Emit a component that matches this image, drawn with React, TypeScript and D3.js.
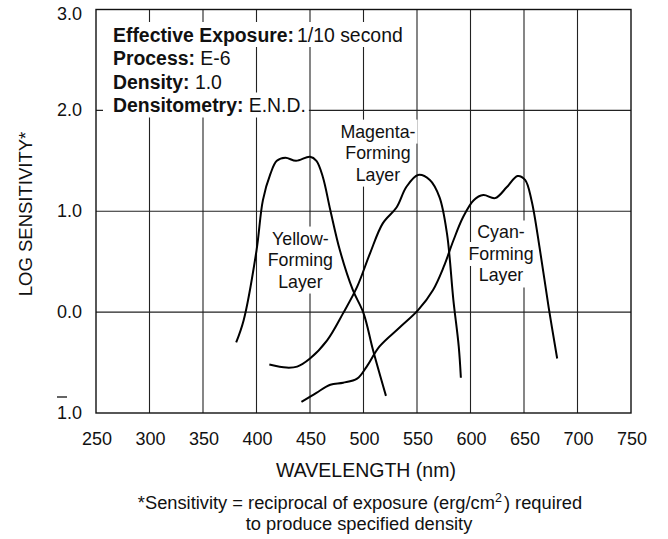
import { useEffect, useRef } from "react"
import * as d3 from "d3"

// wavelength (nm) and log sensitivity
const yellowNm = [381, 388, 400, 406, 413, 419, 427, 437, 450, 456, 462, 469, 478, 490, 500, 509, 521]
const yellowLogS = [-0.3, -0.08, 0.61, 1.11, 1.37, 1.5, 1.53, 1.5, 1.54, 1.5, 1.34, 1.01, 0.61, 0.22, -0.01, -0.38, -0.83]

const magentaNm = [412, 428, 438, 450, 466, 481, 494, 506, 518, 531, 540, 551, 562, 571, 578, 584, 589, 591]
const magentaLogS = [-0.52, -0.55, -0.54, -0.46, -0.28, -0.01, 0.25, 0.58, 0.88, 1.04, 1.24, 1.36, 1.31, 1.14, 0.78, 0.12, -0.34, -0.65]

const cyanNm = [442, 456, 469, 481, 494, 503, 515, 534, 551, 565, 575, 584, 593, 603, 612, 623, 634, 644, 651, 657, 665, 673, 681]
const cyanLogS = [-0.89, -0.8, -0.72, -0.7, -0.66, -0.54, -0.34, -0.15, 0.02, 0.22, 0.45, 0.71, 0.94, 1.11, 1.16, 1.13, 1.24, 1.35, 1.31, 1.11, 0.61, 0.05, -0.46]

const xTicks = [250, 300, 350, 400, 450, 500, 550, 600, 650, 700, 750]
const yTicks = [-1, 0, 1, 2, 3]

const layerLabels = [
  { lines: ["Yellow-", "Forming", "Layer"], nm: 441, logS: 0.67 },
  { lines: ["Magenta-", "Forming", "Layer"], nm: 513.5, logS: 1.73 },
  { lines: ["Cyan-", "Forming", "Layer"], nm: 628.5, logS: 0.73 },
]

const infoRows = [
  ["Effective Exposure:", "1/10 second"],
  ["Process:", " E-6"],
  ["Density:", " 1.0"],
  ["Densitometry:", " E.N.D."],
]

const W = 668
const H = 539
const FONT = "'Liberation Sans', Arial, Helvetica, sans-serif"

export default function App() {
  const svgRef = useRef<SVGSVGElement>(null)

  useEffect(() => {
    if (!svgRef.current) return
    const root = d3.select(svgRef.current)
    root.selectAll("*").remove()

    const margin = { top: 9.5, right: 37, bottom: 126, left: 96 }
    const x = d3.scaleLinear().domain([250, 750]).range([margin.left, W - margin.right])
    const y = d3.scaleLinear().domain([-1, 3]).range([H - margin.bottom, margin.top])

    const svg = root.append("g").style("font-family", FONT)

    // grid
    const grid = svg.append("g").attr("stroke", "#222").attr("stroke-width", 1.1)
    grid
      .selectAll("line.v")
      .data(xTicks.slice(1, -1))
      .join("line")
      .attr("x1", (d) => x(d))
      .attr("x2", (d) => x(d))
      .attr("y1", y(3))
      .attr("y2", y(-1))
    grid
      .selectAll("line.h")
      .data(yTicks.slice(1, -1))
      .join("line")
      .attr("x1", x(250))
      .attr("x2", x(750))
      .attr("y1", (d) => y(d))
      .attr("y2", (d) => y(d))

    // white boxes behind text blocks, sized from the text itself
    const boxed = (g: d3.Selection<SVGGElement, unknown, null, undefined>, padX: number, padY: number, leftTo?: number) => {
      g.selectAll<SVGTextElement, unknown>("text").each(function () {
        const b = this.getBBox()
        const x0 = leftTo ?? b.x - padX
        g.insert("rect", "text")
          .attr("x", x0)
          .attr("y", b.y - padY)
          .attr("width", b.x + b.width + padX - x0)
          .attr("height", b.height + padY * 2)
          .attr("fill", "white")
      })
    }

    // info block
    const info = svg.append("g")
    infoRows.forEach((row, i) => {
      const t = info
        .append("text")
        .attr("x", 113)
        .attr("y", 41.5 + i * 23.5)
        .attr("font-size", 19.4)
        .attr("fill", "#111")
      t.append("tspan").attr("font-weight", "bold").text(row[0])
      t.append("tspan").attr("dx", i === 0 ? 3 : 0).text(row[1])
    })
    boxed(info, 3, 1.5, 103)

    // layer labels
    layerLabels.forEach((lab) => {
      const g = svg.append("g")
      lab.lines.forEach((line, i) => {
        g.append("text")
          .attr("x", x(lab.nm))
          .attr("y", y(lab.logS) + i * 21.5)
          .attr("text-anchor", "middle")
          .attr("font-size", 17.8)
          .attr("fill", "#111")
          .text(line)
      })
      boxed(g, 2, 2)
    })

    // frame
    svg
      .append("rect")
      .attr("x", x(250))
      .attr("y", y(3))
      .attr("width", x(750) - x(250))
      .attr("height", y(-1) - y(3))
      .attr("fill", "none")
      .attr("stroke", "#111")
      .attr("stroke-width", 1.4)

    // curves
    const line = d3
      .line<[number, number]>()
      .x((d) => x(d[0]))
      .y((d) => y(d[1]))
      .curve(d3.curveCatmullRom.alpha(0.5))
    const series = [
      d3.zip(yellowNm, yellowLogS),
      d3.zip(magentaNm, magentaLogS),
      d3.zip(cyanNm, cyanLogS),
    ] as [number, number][][]
    svg
      .append("g")
      .selectAll("path")
      .data(series)
      .join("path")
      .attr("d", (d) => line(d))
      .attr("fill", "none")
      .attr("stroke", "#000")
      .attr("stroke-width", 2)

    // x tick labels
    svg
      .append("g")
      .selectAll("text")
      .data(xTicks)
      .join("text")
      .attr("x", (d) => x(d) + 1)
      .attr("y", y(-1) + 32)
      .attr("text-anchor", "middle")
      .attr("font-size", 18)
      .attr("fill", "#111")
      .text((d) => d)

    // y tick labels ("1.0" with bar for -1)
    const yl = svg.append("g")
    yl.selectAll("text")
      .data(yTicks)
      .join("text")
      .attr("x", 82)
      .attr("y", (d) => y(d) + 6 + (d === 3 ? 4 : 0))
      .attr("text-anchor", "end")
      .attr("font-size", 18)
      .attr("fill", "#111")
      .text((d) => Math.abs(d).toFixed(1))
    yl.append("line")
      .attr("x1", 57)
      .attr("x2", 67)
      .attr("y1", y(-1) - 16)
      .attr("y2", y(-1) - 16)
      .attr("stroke", "#111")
      .attr("stroke-width", 1.3)

    // axis titles
    svg
      .append("text")
      .attr("x", 366)
      .attr("y", 477)
      .attr("text-anchor", "middle")
      .attr("font-size", 19.5)
      .attr("fill", "#111")
      .text("WAVELENGTH (nm)")
    svg
      .append("text")
      .attr("transform", `translate(32, 214) rotate(-90)`)
      .attr("text-anchor", "middle")
      .attr("font-size", 18.5)
      .attr("fill", "#111")
      .text("LOG SENSITIVITY*")

    // footnote
    const fn = svg
      .append("text")
      .attr("x", 360)
      .attr("y", 509)
      .attr("text-anchor", "middle")
      .attr("font-size", 18.3)
      .attr("fill", "#111")
    fn.append("tspan").text("*Sensitivity = reciprocal of exposure (erg/cm")
    fn.append("tspan").attr("dy", -7).attr("font-size", 12.5).text("2")
    fn.append("tspan").attr("dy", 7).attr("dx", 2).text(") required")
    svg
      .append("text")
      .attr("x", 359)
      .attr("y", 530)
      .attr("text-anchor", "middle")
      .attr("font-size", 18.3)
      .attr("fill", "#111")
      .text("to produce specified density")
  }, [])

  return (
    <svg
      ref={svgRef}
      width={W}
      height={H}
      style={{ position: "absolute", left: 0, top: 0, background: "white" }}
    ></svg>
  )
}
